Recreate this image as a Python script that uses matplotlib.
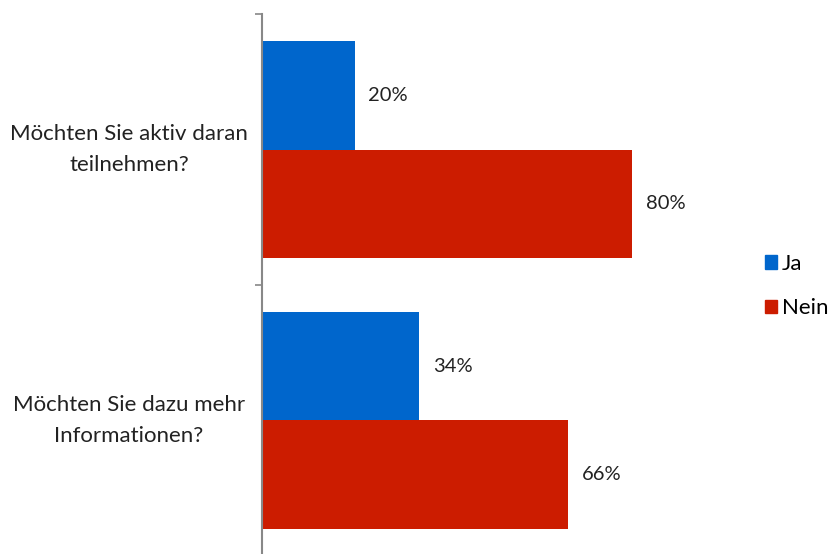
import matplotlib
matplotlib.use("Agg")
import matplotlib.pyplot as plt
import numpy as np
from matplotlib.patches import Patch

categories = ["Möchten Sie aktiv daran\nteilnehmen?", "Möchten Sie dazu mehr\nInformationen?"]
ja = [20, 34]
nein = [80, 66]
series_names = ["Ja", "Nein"]
colors = ["#0066CC", "#CC1C00"]

plt.rcParams["font.family"] = ["Lato", "DejaVu Sans"]

fig = plt.figure(figsize=(8.31, 5.54), dpi=100)
ax = fig.add_axes([262 / 831, -2 / 554, 463 / 831, 542 / 554])

y = np.arange(len(categories))
h = 0.4
ax.barh(y - h / 2, ja, height=h, color=colors[0])
ax.barh(y + h / 2, nein, height=h, color=colors[1])

for yi, v in zip(y - h / 2, ja):
    ax.text(v + 3, yi, f"{v}%", va="center", ha="left", fontsize=14.5, color="#222222")
for yi, v in zip(y + h / 2, nein):
    ax.text(v + 3, yi, f"{v}%", va="center", ha="left", fontsize=14.5, color="#222222")

ax.set_xlim(0, 100)
ax.set_ylim(len(categories) - 0.5, -0.5)

# category labels centred in the left margin, ticks on group boundaries
ax.set_yticks([])
ax.set_yticks(np.arange(len(categories) + 1) - 0.5, minor=True)
ax.tick_params(axis="y", which="minor", length=5, color="#888888", width=1.2)
for yi, label in zip(y, categories):
    fig.text(129 / 831, ax.transData.transform((0, yi))[1] / 554, label,
             ha="center", va="center", fontsize=16, color="#222222",
             linespacing=1.7)
ax.set_xticks([])
for side in ["top", "right", "bottom"]:
    ax.spines[side].set_visible(False)
ax.spines["left"].set_color("#888888")
ax.spines["left"].set_linewidth(1.5)

handles = [Patch(color=c, label=n) for c, n in zip(colors, series_names)]
fig.legend(handles=handles, loc="center left", bbox_to_anchor=(765 / 831, 1 - 286 / 554),
           frameon=False, fontsize=16, handlelength=0.55, handleheight=0.55,
           handletextpad=0.2, labelspacing=1.1, borderpad=0, borderaxespad=0)

fig.savefig("out.png", dpi=100)
